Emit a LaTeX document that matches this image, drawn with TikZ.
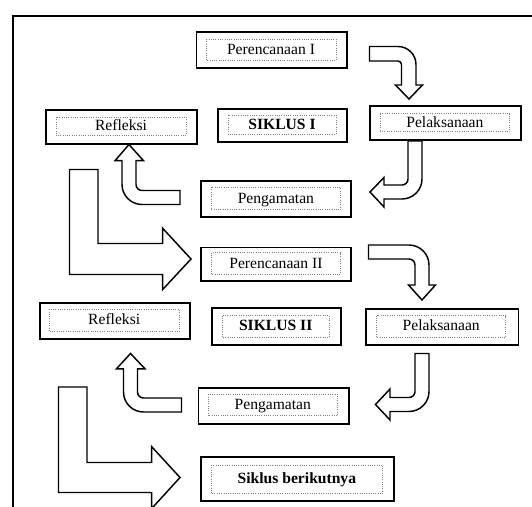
\documentclass[tikz,border=0pt]{standalone}
\usepackage{fontspec}
\setmainfont{Liberation Serif}
\begin{document}
\begin{tikzpicture}[x=0.75pt,y=-0.75pt,
  outerbox/.style={draw=black,line width=1.4pt},
  innerbox/.style={draw=gray,densely dotted,line width=0.7pt},
  lbl/.style={font=\fontsize{11.7}{14}\selectfont, text height=0.66em, text depth=0pt, inner sep=0pt},
  blbl/.style={lbl, font=\fontsize{11.7}{14}\selectfont\bfseries},
  blockarrow/.style={draw=black, fill=white, line width=1.1pt, line join=miter}]
\useasboundingbox (0,0) rectangle (532,507);
% frame
\draw[line width=1.5pt] (12.5,510) -- (12.5,15.5) -- (535,15.5);

% boxes
\draw[outerbox] (196.5,31.6) rectangle (346.8,67.9);
\draw[innerbox] (206,39) rectangle (336,60.4);
\node[lbl] (p1) at (271,49.7) {Perencanaan I};

\draw[outerbox] (45.8,109.6) rectangle (196.8,143.8);
\draw[innerbox] (56,117) rectangle (186,135.3);
\node[lbl] (r1) at (121,126.2) {Refleksi};

\draw[outerbox] (217.8,108.6) rectangle (346.8,142);
\draw[innerbox] (228,115.4) rectangle (336,134.3);
\node[blbl] (s1) at (282,124.9) {SIKLUS I};

\draw[outerbox] (369.9,105.9) rectangle (520.9,140.4);
\draw[innerbox] (380,113.7) rectangle (509.7,131.9);
\node[lbl] (l1) at (444.9,122.8) {Pelaksanaan};

\draw[outerbox] (201.2,181.1) rectangle (351.2,216.7);
\draw[innerbox] (211.4,187.2) rectangle (340.4,209.9);
\node[lbl] (g1) at (275.9,198.6) {Pengamatan};

\draw[outerbox] (201.2,247.5) rectangle (351.2,281.2);
\draw[innerbox] (211.4,252.7) rectangle (340.4,274.4);
\node[lbl] (p2) at (275.9,263.6) {Perencanaan II};

\draw[outerbox] (39.7,302.6) rectangle (190,338.9);
\draw[innerbox] (49.2,309.4) rectangle (179.2,331.4);
\node[lbl] (r2) at (114.2,320.4) {Refleksi};

\draw[outerbox] (212.1,308.4) rectangle (341,345);
\draw[innerbox] (222.3,315.5) rectangle (329.1,337.5);
\node[blbl] (s2) at (275.7,326.5) {SIKLUS II};

\draw[outerbox] (365.8,308.7) rectangle (518.5,345);
\draw[innerbox] (376.7,315.5) rectangle (505.6,337.5);
\node[lbl] (l2) at (441.2,326.5) {Pelaksanaan};

\draw[outerbox] (198.5,387.6) rectangle (348.8,423.6);
\draw[innerbox] (208,394.4) rectangle (337.6,415.8);
\node[lbl] (g2) at (272.8,405.1) {Pengamatan};

\draw[outerbox] (201,457.3) rectangle (394,501);
\draw[innerbox] (211,465) rectangle (382.7,493.3);
\node[blbl] (sb) at (296.9,479.2) {Siklus berikutnya};

% arrow Perencanaan I -> Pelaksanaan
\draw[blockarrow] (369.5,46.5) -- (398,46.5) arc[start angle=-90,end angle=0,radius=18]
  -- (416,85) -- (422.5,85) -- (409,99) -- (395.5,85) -- (401.5,85) -- (401.5,64.5)
  arc[start angle=0,end angle=-90,radius=3.5] -- (369.5,61) -- cycle;

% arrow Pelaksanaan -> Pengamatan
\draw[blockarrow] (408,141) -- (422,141) -- (422,179) arc[start angle=0,end angle=90,radius=20]
  -- (384,199) -- (384,207) -- (370,192) -- (384,177.5) -- (384,185) -- (402,185)
  arc[start angle=90,end angle=0,radius=6] -- cycle;

% arrow Pengamatan -> Refleksi
\draw[blockarrow] (180,190.5) -- (180,204.5) -- (142,204.5) arc[start angle=90,end angle=180,radius=20]
  -- (122,160.7) -- (115,160.7) -- (129,144.5) -- (143.5,160.7) -- (136,160.7) -- (136,184.5)
  arc[start angle=180,end angle=90,radius=6] -- cycle;

% big arrow Refleksi -> Perencanaan II
\draw[blockarrow] (69.5,169.5) -- (98,169.5) -- (98,243.5) -- (162.7,243.5) -- (162.7,228.3)
  -- (191,259) -- (162.7,289.5) -- (162.7,274.5) -- (69.5,274.5) -- cycle;

% arrow Perencanaan II -> Pelaksanaan
\draw[blockarrow] (368.5,245) -- (409,245) arc[start angle=-90,end angle=0,radius=20]
  -- (429,285) -- (435.5,285) -- (422,300) -- (408.5,285) -- (415,285) -- (415,265)
  arc[start angle=0,end angle=-90,radius=6] -- (368.5,259) -- cycle;

% arrow Pelaksanaan -> Pengamatan
\draw[blockarrow] (415,353.5) -- (429,353.5) -- (429,391.5) arc[start angle=0,end angle=90,radius=20]
  -- (390,411.5) -- (390,420) -- (375.5,404.5) -- (390,389) -- (390,397.5) -- (409,397.5)
  arc[start angle=90,end angle=0,radius=6] -- cycle;

% arrow Pengamatan -> Refleksi
\draw[blockarrow] (181.5,398) -- (181.5,412) -- (143.5,412) arc[start angle=90,end angle=180,radius=20]
  -- (123.5,368.8) -- (116.5,368.8) -- (130.5,353.5) -- (145,368.8) -- (137.5,368.8) -- (137.5,392)
  arc[start angle=180,end angle=90,radius=6] -- cycle;

% big arrow Refleksi -> Siklus berikutnya
\draw[blockarrow] (58.5,387) -- (87,387) -- (87,462.5) -- (151.7,462.5) -- (151.7,446.7)
  -- (180,477.5) -- (151.7,508.5) -- (151.7,492.5) -- (58.5,492.5) -- cycle;
\end{tikzpicture}
\end{document}
